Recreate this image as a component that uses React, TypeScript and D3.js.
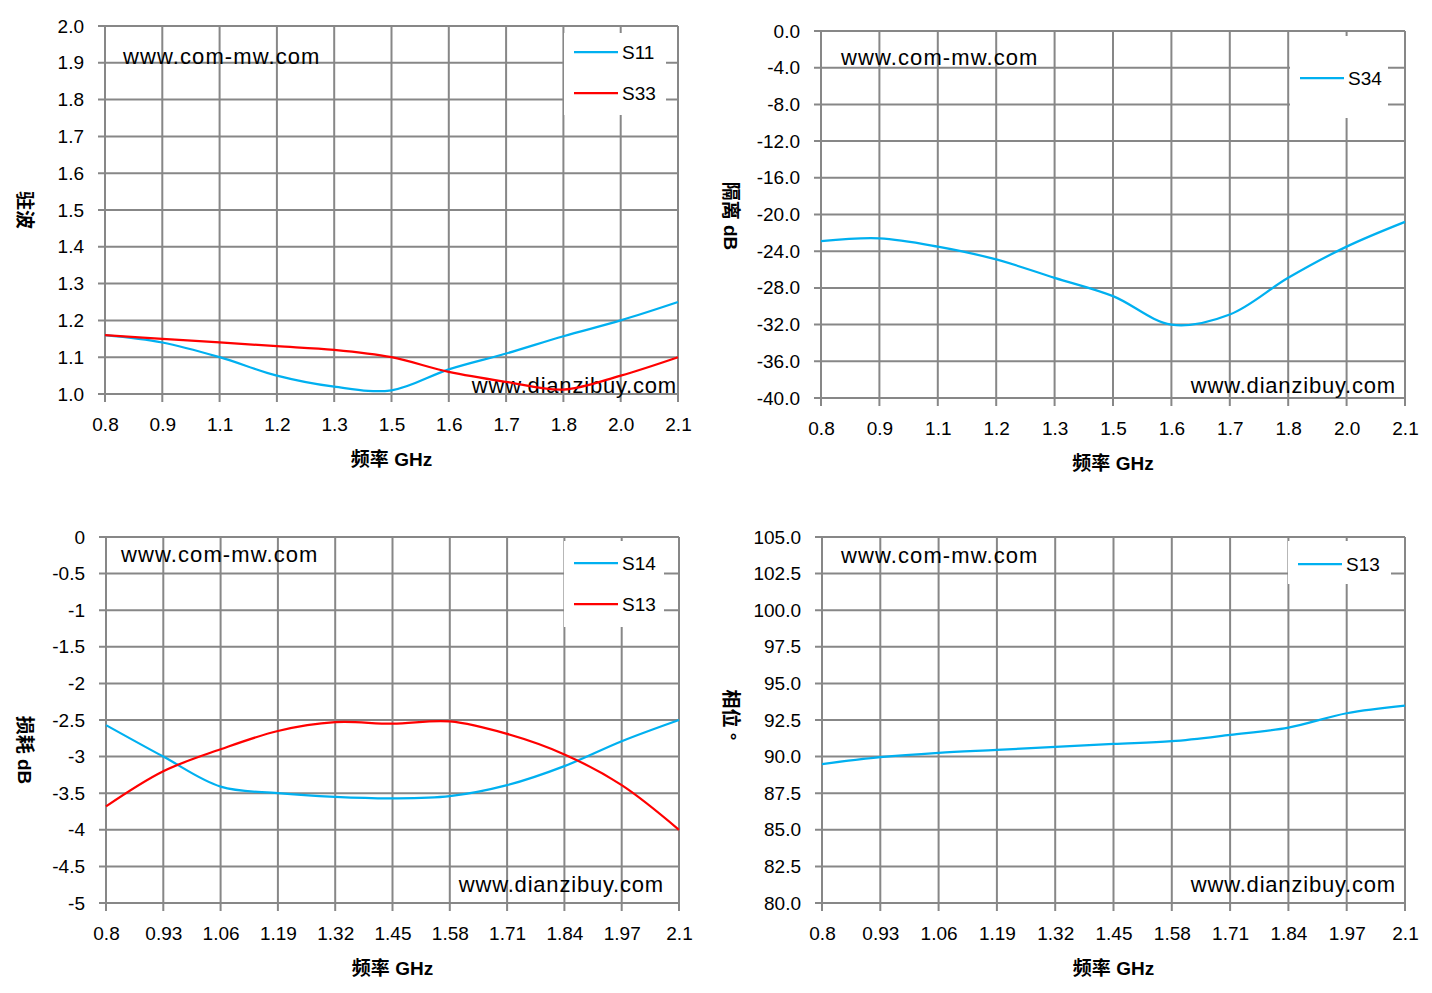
import React, { useEffect, useRef } from "react";
import * as d3 from "d3";

// category labels (Excel line chart, 11 points each)
const freqTop = ["0.8", "0.9", "1.1", "1.2", "1.3", "1.5", "1.6", "1.7", "1.8", "2.0", "2.1"];
const freqBottom = ["0.8", "0.93", "1.06", "1.19", "1.32", "1.45", "1.58", "1.71", "1.84", "1.97", "2.1"];

// series values
const vswrS11 = [1.16, 1.14, 1.1, 1.05, 1.02, 1.01, 1.067, 1.11, 1.157, 1.2, 1.25];
const vswrS33 = [1.16, 1.15, 1.14, 1.13, 1.12, 1.1, 1.06, 1.033, 1.012, 1.05, 1.1];
const isoS34 = [-22.9, -22.6, -23.5, -24.9, -26.9, -28.9, -32.0, -30.9, -26.9, -23.5, -20.8];
const lossS14 = [-2.57, -3.0, -3.41, -3.5, -3.55, -3.57, -3.54, -3.39, -3.13, -2.79, -2.5];
const lossS13 = [-3.68, -3.2, -2.9, -2.65, -2.53, -2.55, -2.52, -2.69, -2.97, -3.39, -4.0];
const phaseS13 = [89.49, 89.96, 90.26, 90.46, 90.67, 90.87, 91.05, 91.48, 91.98, 92.96, 93.48];

// y tick values
const ticksVswr = d3.range(0, 11).map((i) => 1 + i / 10);
const ticksIso = d3.range(0, 11).map((i) => -40 + i * 4);
const ticksLoss = d3.range(0, 11).map((i) => -5 + i * 0.5);
const ticksPhase = d3.range(0, 11).map((i) => 80 + i * 2.5);

const BLUE = "#00B0F0";
const RED = "#FF0000";
const GRID = "#878787";
const FONT = "'Liberation Sans', Arial, sans-serif";
const CJK = "'Liberation Sans', 'Noto Sans CJK SC', sans-serif";

interface Series {
    name: string;
    values: number[];
    color: string;
}

interface PanelProps {
    left: number;
    right: number;
    top: number;
    bottom: number;
    cats: string[];
    domain: [number, number];
    ticks: number[];
    fmt: (d: number) => string;
    series: Series[];
    yTitle: string;
    yTitleX: number;
    yTitleY: number;
    wmTop: [number, number];
    wmBottom: [number, number];
    legend: { x0: number; x1: number; y0: number; y1: number; rows: number[] };
}

const Panel: React.FC<PanelProps> = (p) => {
    const gRef = useRef<SVGGElement | null>(null);

    useEffect(() => {
        if (!gRef.current) return;
        const g = d3.select(gRef.current);
        g.selectAll("*").remove();

        const x = d3.scalePoint<string>().domain(p.cats).range([p.left, p.right]);
        const y = d3.scaleLinear().domain(p.domain).range([p.bottom, p.top]);

        // horizontal grid + left ticks
        g.append("g")
            .selectAll("line")
            .data(p.ticks)
            .join("line")
            .attr("x1", p.left - 7)
            .attr("x2", p.right)
            .attr("y1", (d) => y(d))
            .attr("y2", (d) => y(d))
            .attr("stroke", GRID)
            .attr("stroke-width", 2);

        // vertical grid + bottom ticks
        g.append("g")
            .selectAll("line")
            .data(p.cats)
            .join("line")
            .attr("x1", (d) => x(d)!)
            .attr("x2", (d) => x(d)!)
            .attr("y1", p.top)
            .attr("y2", p.bottom + 8)
            .attr("stroke", GRID)
            .attr("stroke-width", 2);

        // y axis labels
        g.append("g")
            .attr("transform", `translate(${p.left},0)`)
            .call(d3.axisLeft(y).tickValues(p.ticks).tickFormat((d) => p.fmt(+d)).tickSize(7).tickPadding(14))
            .call((a) => a.select(".domain").remove())
            .call((a) => a.selectAll(".tick line").remove())
            .call((a) =>
                a.selectAll(".tick text").attr("font-size", 19).attr("font-family", FONT).attr("fill", "#000")
            );

        // x axis labels
        g.append("g")
            .attr("transform", `translate(0,${p.bottom})`)
            .call(d3.axisBottom(x).tickSize(8).tickPadding(16))
            .call((a) => a.select(".domain").remove())
            .call((a) => a.selectAll(".tick line").remove())
            .call((a) =>
                a.selectAll(".tick text").attr("font-size", 19).attr("font-family", FONT).attr("fill", "#000")
            );

        // watermarks
        g.append("text")
            .attr("x", p.wmTop[0])
            .attr("y", p.wmTop[1])
            .attr("font-size", 22)
            .attr("font-family", FONT)
            .attr("letter-spacing", 1.1)
            .text("www.com-mw.com");
        g.append("text")
            .attr("x", p.wmBottom[0])
            .attr("y", p.wmBottom[1])
            .attr("text-anchor", "end")
            .attr("font-size", 22)
            .attr("font-family", FONT)
            .attr("letter-spacing", 0.8)
            .text("www.dianzibuy.com");

        // legend box
        const lg = p.legend;
        g.append("rect")
            .attr("x", lg.x0)
            .attr("y", lg.y0)
            .attr("width", lg.x1 - lg.x0)
            .attr("height", lg.y1 - lg.y0)
            .attr("fill", "#fff");

        // series
        const line = d3
            .line<number>()
            .x((_, i) => x(p.cats[i])!)
            .y((d) => y(d))
            .curve(d3.curveCatmullRom.alpha(0.5));

        p.series.forEach((s, k) => {
            g.append("path")
                .attr("d", line(s.values))
                .attr("fill", "none")
                .attr("stroke", s.color)
                .attr("stroke-width", 2.25);

            const ly = lg.rows[k];
            g.append("line")
                .attr("x1", lg.x0 + 10)
                .attr("x2", lg.x0 + 54)
                .attr("y1", ly)
                .attr("y2", ly)
                .attr("stroke", s.color)
                .attr("stroke-width", 2.25);
            g.append("text")
                .attr("x", lg.x0 + 58)
                .attr("y", ly)
                .attr("dy", "0.36em")
                .attr("font-size", 19)
                .attr("font-family", FONT)
                .text(s.name);
        });

        // axis titles
        g.append("text")
            .attr("x", (p.left + p.right) / 2)
            .attr("y", p.bottom + 72)
            .attr("text-anchor", "middle")
            .attr("font-size", 19)
            .attr("font-weight", "bold")
            .attr("font-family", CJK)
            .text("频率 GHz");

        g.append("text")
            .attr("transform", `translate(${p.yTitleX},${p.yTitleY}) rotate(90)`)
            .attr("text-anchor", "middle")
            .attr("dy", "0.35em")
            .attr("font-size", 19)
            .attr("font-weight", "bold")
            .attr("font-family", CJK)
            .text(p.yTitle);
    }, [p]);

    return <g ref={gRef}></g>;
};

const f1 = (d: number) => d.toFixed(1);
const fg = (d: number) => String(d);

export default function App() {
    return (
        <svg
            width={1432}
            height={993}
            viewBox="0 0 1432 993"
            style={{ position: "absolute", left: 0, top: 0, background: "#fff" }}
        >
            <rect width={1432} height={993} fill="#fff" />
            <Panel
                left={105}
                right={678}
                top={26}
                bottom={394}
                cats={freqTop}
                domain={[1, 2]}
                ticks={ticksVswr}
                fmt={f1}
                series={[
                    { name: "S11", values: vswrS11, color: BLUE },
                    { name: "S33", values: vswrS33, color: RED },
                ]}
                yTitle="驻波"
                yTitleX={25}
                yTitleY={210}
                wmTop={[123, 64]}
                wmBottom={[677, 393]}
                legend={{ x0: 564, x1: 666, y0: 33, y1: 115, rows: [52, 93] }}
            />
            <Panel
                left={821}
                right={1405}
                top={31}
                bottom={398}
                cats={freqTop}
                domain={[-40, 0]}
                ticks={ticksIso}
                fmt={f1}
                series={[{ name: "S34", values: isoS34, color: BLUE }]}
                yTitle="隔离 dB"
                yTitleX={731}
                yTitleY={216}
                wmTop={[841, 65]}
                wmBottom={[1396, 393]}
                legend={{ x0: 1290, x1: 1388, y0: 36, y1: 118, rows: [78] }}
            />
            <Panel
                left={106}
                right={679}
                top={537}
                bottom={903}
                cats={freqBottom}
                domain={[-5, 0]}
                ticks={ticksLoss}
                fmt={fg}
                series={[
                    { name: "S14", values: lossS14, color: BLUE },
                    { name: "S13", values: lossS13, color: RED },
                ]}
                yTitle="损耗 dB"
                yTitleX={25}
                yTitleY={750}
                wmTop={[121, 562]}
                wmBottom={[664, 892]}
                legend={{ x0: 564, x1: 664, y0: 541, y1: 627, rows: [563, 604] }}
            />
            <Panel
                left={822}
                right={1405}
                top={537}
                bottom={903}
                cats={freqBottom}
                domain={[80, 105]}
                ticks={ticksPhase}
                fmt={f1}
                series={[{ name: "S13", values: phaseS13, color: BLUE }]}
                yTitle="相位 °"
                yTitleX={731}
                yTitleY={715}
                wmTop={[841, 563]}
                wmBottom={[1396, 892]}
                legend={{ x0: 1288, x1: 1391, y0: 541, y1: 584, rows: [564] }}
            />
        </svg>
    );
}
